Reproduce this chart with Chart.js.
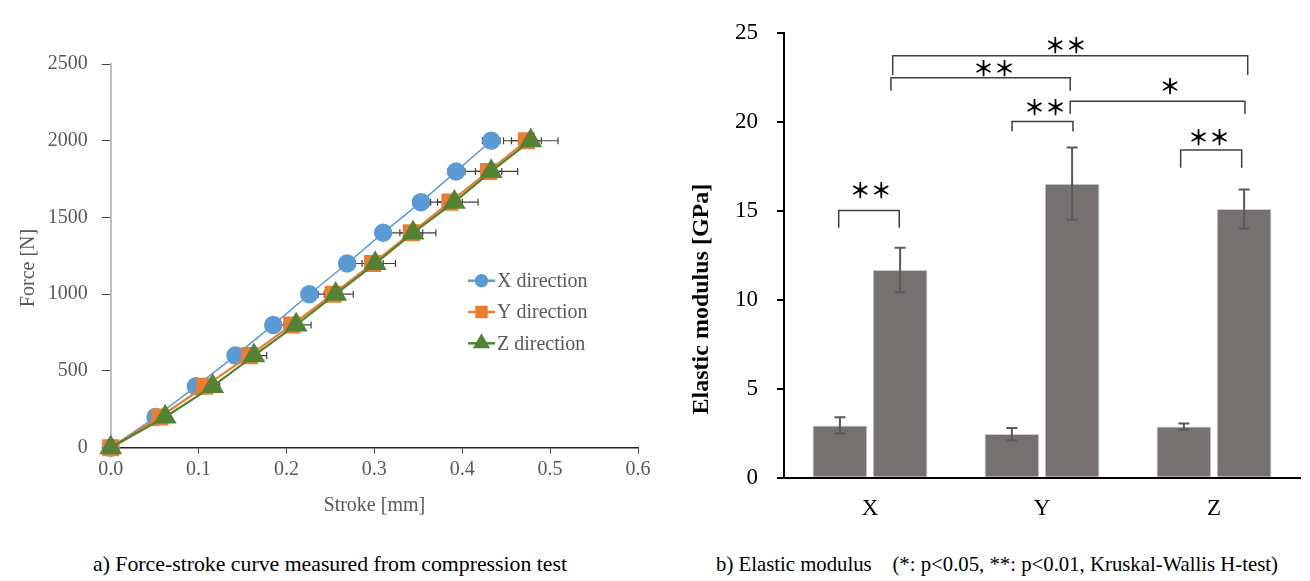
<!DOCTYPE html>
<html>
<head>
<meta charset="utf-8">
<script src="https://cdn.jsdelivr.net/npm/chart.js"></script>
<style>
body { margin:0; background:#fff; width:1310px; height:581px; overflow:hidden; position:relative; font-family:"Liberation Serif", "Times New Roman", serif; }
#forceChart { position:absolute; left:0; top:0; }
#modulusChart { position:absolute; left:660px; top:0; }
.caption { position:absolute; top:552px; font-size:21px; line-height:24px; white-space:nowrap; transform-origin:left top; color:#000; }
</style>
</head>
<body>
<canvas id="forceChart" width="660" height="530"></canvas>
<canvas id="modulusChart" width="650" height="530"></canvas>
<div class="caption" data-w="474" style="left:93px">a) Force-stroke curve measured from compression test</div>
<div class="caption" data-w="562" style="left:716px">b) Elastic modulus&nbsp;&nbsp;&nbsp; (*: p&lt;0.05, **: p&lt;0.01, Kruskal-Wallis H-test)</div>
<script>
// a) force-stroke curves
const force = [0, 200, 400, 600, 800, 1000, 1200, 1400, 1600, 1800, 2000];
const strokeX = [0, 0.051, 0.097, 0.142, 0.185, 0.226, 0.269, 0.310, 0.353, 0.393, 0.433];
const strokeY = [0, 0.056, 0.107, 0.158, 0.206, 0.253, 0.298, 0.342, 0.386, 0.430, 0.473];
const strokeZ = [0, 0.062, 0.116, 0.163, 0.211, 0.256, 0.301, 0.344, 0.391, 0.433, 0.478];
const errX = [0, 0.002, 0.003, 0.004, 0.005, 0.006, 0.007, 0.008, 0.009, 0.009, 0.010];
const errY = [0, 0.003, 0.005, 0.007, 0.009, 0.010, 0.012, 0.013, 0.014, 0.015, 0.017];
const errZ = [0, 0.004, 0.008, 0.0145, 0.017, 0.020, 0.023, 0.026, 0.027, 0.030, 0.031];

// b) elastic modulus
const directions = ['X', 'Y', 'Z'];
const modulus1 = [2.94, 2.45, 2.88];
const modulusErr1 = [0.45, 0.34, 0.17];
const modulus2 = [11.67, 16.52, 15.10];
const modulusErr2 = [1.25, 2.03, 1.10];

// significance brackets: x in category units, y in GPa
const brackets = [
    {x1: -0.182, x2: 0.170, y: 15.02, drop: 0.98, text: '**', tx: 0.004, ty: 16.14},
    {x1: 0.826, x2: 1.180, y: 20.02, drop: 0.56, text: '**', tx: 1.017, ty: 20.83},
    {x1: 1.806, x2: 2.161, y: 18.42, drop: 1.00, text: '**', tx: 1.971, ty: 19.15},
    {x1: 0.122, x2: 1.164, y: 22.48, drop: 0.73, text: '**', tx: 0.721, ty: 23.01},
    {x1: 1.164, x2: 2.180, y: 21.15, drop: 0.71, text: '*', tx: 1.744, ty: 22.03},
    {x1: 0.132, x2: 2.196, y: 23.71, drop: 1.08, text: '**', tx: 1.138, ty: 24.31}
];

const serif = '"Liberation Serif", "Times New Roman", serif';
Chart.defaults.font.family = serif;

function toPoints(xs) {
    return xs.map(function (x, i) { return {x: x, y: force[i]}; });
}

const sideTitle = {
    id: 'sideTitle',
    afterDraw(chart, args, o) {
        const ctx = chart.ctx, a = chart.chartArea;
        ctx.save();
        ctx.translate(a.left + o.dx, a.top + o.dy);
        ctx.rotate(-Math.PI / 2);
        ctx.font = o.font;
        ctx.fillStyle = o.color;
        ctx.textAlign = 'center';
        ctx.textBaseline = 'middle';
        ctx.fillText(o.text, 0, 0);
        ctx.restore();
    }
};

const strokeErrors = {
    id: 'strokeErrors',
    beforeDatasetsDraw(chart) {
        const ctx = chart.ctx, xs = chart.scales.x, ys = chart.scales.y;
        ctx.save();
        ctx.strokeStyle = '#404040';
        ctx.lineWidth = 1.2;
        chart.data.datasets.forEach(function (ds) {
            ds.data.forEach(function (p, i) {
                const e = ds.errors[i];
                if (!e) return;
                const py = ys.getPixelForValue(p.y);
                const x1 = xs.getPixelForValue(p.x - e), x2 = xs.getPixelForValue(p.x + e);
                ctx.beginPath();
                ctx.moveTo(x1, py); ctx.lineTo(x2, py);
                ctx.moveTo(x1, py - 3.5); ctx.lineTo(x1, py + 3.5);
                ctx.moveTo(x2, py - 3.5); ctx.lineTo(x2, py + 3.5);
                ctx.stroke();
            });
        });
        ctx.restore();
    }
};

const lineLegend = {
    id: 'lineLegend',
    afterDraw(chart, args, o) {
        const ctx = chart.ctx, a = chart.chartArea;
        chart.data.datasets.forEach(function (ds, i) {
            const x = a.left + o.dx, y = a.top + o.dy + i * o.gap;
            ctx.save();
            ctx.strokeStyle = ds.borderColor;
            ctx.fillStyle = ds.pointBackgroundColor;
            ctx.lineWidth = 2.5;
            ctx.beginPath(); ctx.moveTo(x, y); ctx.lineTo(x + 27, y); ctx.stroke();
            ctx.strokeStyle = ds.pointBackgroundColor;
            Chart.helpers.drawPoint(ctx, {pointStyle: ds.pointStyle, radius: ds.legendRadius, borderWidth: 1, rotation: 0}, x + 13.5, y);
            ctx.font = '20px ' + serif;
            ctx.fillStyle = '#595959';
            ctx.textBaseline = 'middle';
            ctx.fillText(ds.label, x + 29, y + 1);
            ctx.restore();
        });
    }
};

new Chart(document.getElementById('forceChart'), {
    type: 'scatter',
    data: {
        datasets: [
            {label: 'X direction', data: toPoints(strokeX), errors: errX, showLine: true, order: 3, clip: false,
             borderColor: '#5b9bd5', borderWidth: 1.5, pointStyle: 'circle', pointRadius: 8.5, legendRadius: 5.5,
             pointBackgroundColor: '#5b9bd5', pointBorderColor: '#5b9bd5'},
            {label: 'Y direction', data: toPoints(strokeY), errors: errY, showLine: true, order: 2, clip: false,
             borderColor: '#ed7d31', borderWidth: 2.2, pointStyle: 'rect', pointRadius: 10.5, legendRadius: 7,
             pointBackgroundColor: '#ed7d31', pointBorderColor: '#ed7d31'},
            {label: 'Z direction', data: toPoints(strokeZ), errors: errZ, showLine: true, order: 1, clip: false,
             borderColor: '#548235', borderWidth: 2.2, pointStyle: 'triangle', pointRadius: 11, legendRadius: 7.5,
             pointBackgroundColor: '#548235', pointBorderColor: '#548235'}
        ]
    },
    options: {
        responsive: false,
        animation: false,
        layout: {padding: {left: 0, right: 22, top: 64, bottom: 12}},
        plugins: {
            legend: {display: false},
            tooltip: {enabled: false},
            sideTitle: {text: 'Force [N]', dx: -81.7, dy: 204, font: '20px ' + serif, color: '#595959'},
            lineLegend: {dx: 357.3, dy: 216.7, gap: 31.3}
        },
        scales: {
            x: {
                type: 'linear', min: 0, max: 0.6,
                ticks: {stepSize: 0.1, color: '#595959', font: {family: serif, size: 20}, padding: 4,
                        callback: function (v) { return v.toFixed(1); }},
                grid: {drawOnChartArea: false, tickLength: 6, color: '#404040'},
                border: {color: '#262626', width: 1.5},
                title: {display: true, text: 'Stroke [mm]', color: '#595959', font: {family: serif, size: 20}, padding: 0},
                afterFit: function (s) { s.height = 70.3; }
            },
            y: {
                min: 0, max: 2500,
                ticks: {stepSize: 500, color: '#595959', font: {family: serif, size: 20}, padding: 14,
                        callback: function (v) { return String(v); }},
                grid: {drawOnChartArea: false, tickLength: 9, color: '#404040'},
                border: {color: '#bfbfbf', width: 2},
                afterFit: function (s) { s.width = 110.7; }
            }
        }
    },
    plugins: [strokeErrors, lineLegend, sideTitle]
});

const barErrors = {
    id: 'barErrors',
    afterDatasetsDraw(chart) {
        const ctx = chart.ctx, ys = chart.scales.y;
        ctx.save();
        ctx.strokeStyle = '#595959';
        ctx.lineWidth = 2;
        chart.data.datasets.forEach(function (ds, di) {
            chart.getDatasetMeta(di).data.forEach(function (bar, i) {
                const v = ds.data[i], e = ds.errors[i];
                const y1 = ys.getPixelForValue(v + e), y2 = ys.getPixelForValue(v - e);
                ctx.beginPath();
                ctx.moveTo(bar.x, y1); ctx.lineTo(bar.x, y2);
                ctx.moveTo(bar.x - 5.5, y1); ctx.lineTo(bar.x + 5.5, y1);
                ctx.moveTo(bar.x - 5.5, y2); ctx.lineTo(bar.x + 5.5, y2);
                ctx.stroke();
            });
        });
        ctx.restore();
    }
};

const sigBrackets = {
    id: 'sigBrackets',
    afterDraw(chart) {
        const ctx = chart.ctx, xs = chart.scales.x, ys = chart.scales.y;
        ctx.save();
        brackets.forEach(function (b) {
            const x1 = xs.getPixelForValue(b.x1), x2 = xs.getPixelForValue(b.x2);
            const y = ys.getPixelForValue(b.y), yl = ys.getPixelForValue(b.y - b.drop);
            ctx.strokeStyle = '#3f3f3f';
            ctx.lineWidth = 1.5;
            ctx.beginPath();
            ctx.moveTo(x1, yl); ctx.lineTo(x1, y); ctx.lineTo(x2, y); ctx.lineTo(x2, yl);
            ctx.stroke();
            ctx.fillStyle = '#000';
            ctx.font = 'bold 21px "Noto Sans CJK JP"';
            ctx.textAlign = 'center';
            ctx.textBaseline = 'middle';
            ctx.fillText(b.text.replace(/\*/g, '＊'), xs.getPixelForValue(b.tx), ys.getPixelForValue(b.ty));
        });
        ctx.restore();
    }
};

new Chart(document.getElementById('modulusChart'), {
    type: 'bar',
    data: {
        labels: directions,
        datasets: [
            {label: 'Series 1', data: modulus1, errors: modulusErr1, backgroundColor: '#767171',
             borderColor: '#cfcdcd', borderWidth: 1, categoryPercentage: 0.7, barPercentage: 0.91},
            {label: 'Series 2', data: modulus2, errors: modulusErr2, backgroundColor: '#767171',
             borderColor: '#cfcdcd', borderWidth: 1, categoryPercentage: 0.7, barPercentage: 0.91}
        ]
    },
    options: {
        responsive: false,
        animation: false,
        layout: {padding: {left: 0, right: 10, top: 20.7, bottom: 0}},
        plugins: {
            legend: {display: false},
            tooltip: {enabled: false},
            sideTitle: {text: 'Elastic modulus [GPa]', dx: -82, dy: 266.3, font: 'bold 24px ' + serif, color: '#000'}
        },
        scales: {
            x: {
                ticks: {color: '#000', font: {family: serif, size: 23}, padding: 17},
                grid: {display: false, drawTicks: false},
                border: {color: '#000', width: 2},
                afterFit: function (s) { s.height = 52.3; }
            },
            y: {
                min: 0, max: 25,
                ticks: {stepSize: 5, color: '#000', font: {family: serif, size: 23}, padding: 19},
                grid: {drawOnChartArea: false, tickLength: 7, color: '#000', lineWidth: 2},
                border: {color: '#000', width: 2},
                afterFit: function (s) { s.width = 124; }
            }
        }
    },
    plugins: [barErrors, sigBrackets, sideTitle]
});

document.querySelectorAll('.caption').forEach(function (el) {
    const w = el.getBoundingClientRect().width;
    el.style.transform = 'scaleX(' + (el.dataset.w / w) + ')';
});
</script>
</body>
</html>
